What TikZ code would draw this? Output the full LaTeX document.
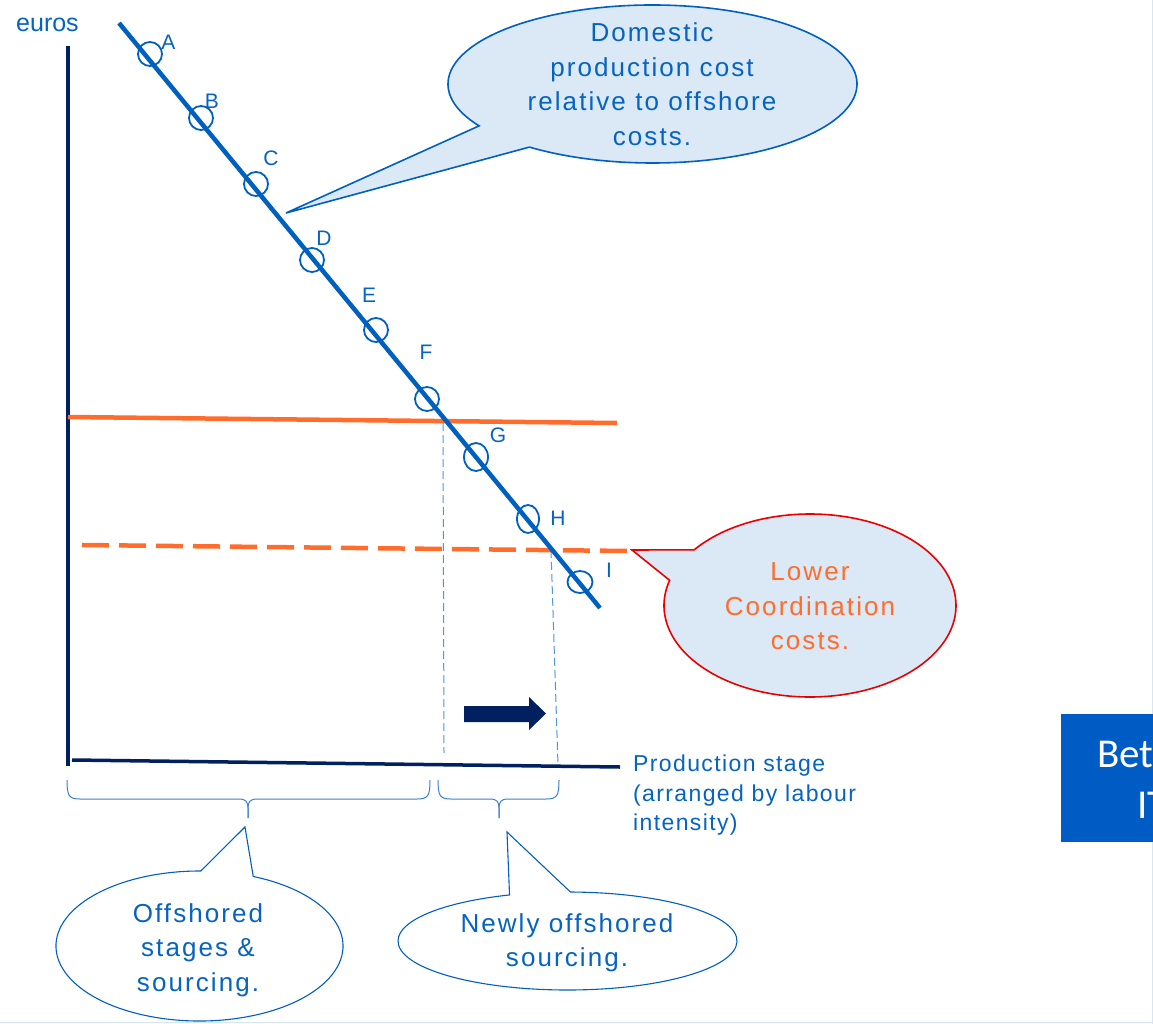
\documentclass[tikz,border=0pt]{standalone}
\usepackage{fontspec}
\setmainfont{Liberation Sans}
\newfontfamily\calfont{Carlito}
\newfontfamily\spacedfont[LetterSpace=8]{Liberation Sans}
\newfontfamily\prodfont[LetterSpace=6]{Liberation Sans}
\usetikzlibrary{calc,shapes.geometric}
\definecolor{txtblue}{RGB}{5,99,193}
\definecolor{lineblue}{RGB}{0,96,192}
\definecolor{navy}{RGB}{0,32,96}
\definecolor{orng}{RGB}{255,108,44}
\definecolor{callfill}{RGB}{218,233,245}
\definecolor{dashblue}{RGB}{80,150,220}
\definecolor{boxblue}{RGB}{0,92,197}
\definecolor{calred}{RGB}{235,0,0}
\definecolor{framegray}{RGB}{214,230,242}
\definecolor{bracecol}{RGB}{60,130,210}
\begin{document}
\begin{tikzpicture}[x=1pt,y=-1pt,
  axisline/.style={navy, line width=3.5pt},
  curveline/.style={lineblue, line width=4.5pt},
  ptcirc/.style={ellipse, draw=lineblue, line width=1.8pt, inner sep=0pt, minimum width=24pt, minimum height=24pt},
  ptlbl/.style={text=txtblue, font=\fontsize{21}{24}\selectfont, inner sep=0pt},
  orngline/.style={orng, line width=4.5pt},
  orngdash/.style={orng, line width=4.5pt, dash pattern=on 27pt off 10pt},
  thindash/.style={dashblue, line width=1pt, dash pattern=on 8pt off 4pt},
  calltext/.style={align=center, inner sep=0pt, font=\spacedfont\fontsize{26}{34.5}\selectfont},
  bracestyle/.style={draw=bracecol, line width=1pt}
]
\useasboundingbox (0,0) rectangle (1153,1024);
\fill[white] (0,0) rectangle (1153,1024);

% frame edges
\draw[framegray, line width=1pt] (0,1022.5) -- (1153,1022.5);
\draw[framegray, line width=1pt] (1152.5,0) -- (1152.5,1024);

% right box (cut off)
\begin{scope}
\clip (0,0) rectangle (1153,1024);
\fill[boxblue] (1061,714) rectangle (1160,842);
\node[anchor=base west, text=white, inner sep=0pt, font=\calfont\fontsize{41}{49}\selectfont] (bet) at (1097,767) {Bet};
\node[anchor=base west, text=white, inner sep=0pt, font=\calfont\fontsize{41}{49}\selectfont] (it) at (1137,818) {IT};
\end{scope}

% axes
\coordinate (ytop) at (68,46);
\coordinate (ybot) at (68,766);
\coordinate (xl) at (72,760);
\coordinate (xr) at (620,767);
\draw[axisline] (ytop) -- (ybot);
\draw[axisline] (xl) -- (xr);
\node[anchor=base west, text=txtblue, inner sep=0pt, font=\fontsize{25}{28}\selectfont] (euros) at (16,32) {euros};
\node[anchor=north west, align=left, text=txtblue, inner sep=0pt, font=\prodfont\fontsize{23}{29.5}\selectfont] (prodlbl) at (633,755) {Production stage\\(arranged by labour\\intensity)};

% cost lines
\coordinate (osl) at (68,417);
\coordinate (osr) at (617,423);
\draw[orngline] (osl) -- (osr);
\coordinate (odl) at (82,545);
\coordinate (odr) at (630,551);
\draw[orngdash] (odl) -- (odr);

% thin dashed verticals
\coordinate (v1t) at (443,423);
\coordinate (v1b) at (444,753);
\coordinate (v2t) at (551,550);
\coordinate (v2b) at (558,765);
\draw[thindash] (v1t) -- (v1b);
\draw[thindash] (v2t) -- (v2b);

% main domestic cost line
\coordinate (ms) at (119,23);
\coordinate (me) at (600,608);
\draw[curveline] (ms) -- (me);

% point markers
\node[ptcirc] (cA) at (150,54) {};
\node[ptcirc] (cB) at (201,118) {};
\node[ptcirc] (cC) at (256,184) {};
\node[ptcirc] (cD) at (312,260) {};
\node[ptcirc] (cE) at (376,330) {};
\node[ptcirc] (cF) at (427,399) {};
\node[ptcirc, minimum height=28pt] (cG) at (476,457) {};
\node[ptcirc, minimum width=22pt, minimum height=28pt] (cH) at (528,519) {};
\node[ptcirc, minimum width=25pt, minimum height=22pt] (cI) at (580,582) {};
\node[ptlbl] (lA) at (168.5,42.5) {A};
\node[ptlbl] (lB) at (212,101) {B};
\node[ptlbl] (lC) at (271,158) {C};
\node[ptlbl] (lD) at (324,238) {D};
\node[ptlbl] (lE) at (369,295) {E};
\node[ptlbl] (lF) at (426,352) {F};
\node[ptlbl] (lG) at (498,435) {G};
\node[ptlbl] (lH) at (558,518) {H};
\node[ptlbl] (lI) at (609,570) {I};

% block arrow
\fill[navy] (464,706) -- (529,706) -- (529,697) -- (546,713.5) -- (529,730) -- (529,722) -- (464,722) -- cycle;

% braces
\coordinate (b1l) at (67,780);
\coordinate (b1tip) at (248,818);
\coordinate (b1r) at (430,780);
\coordinate (b2l) at (438,780);
\coordinate (b2tip) at (499,818);
\coordinate (b2r) at (559,780);
\draw[bracestyle] (b1l) .. controls (67,796) and (69,799) .. (80,799) -- (239,799) .. controls (246,799) and (248,802) .. (248,808) -- (b1tip);
\draw[bracestyle] (b1tip) -- (248,808) .. controls (248,802) and (250,799) .. (257,799) -- (417,799) .. controls (428,799) and (430,796) .. (b1r);
\draw[bracestyle] (b2l) .. controls (438,796) and (440,799) .. (451,799) -- (490,799) .. controls (497,799) and (499,802) .. (499,808) -- (b2tip);
\draw[bracestyle] (b2tip) -- (499,808) .. controls (499,802) and (501,799) .. (508,799) -- (546,799) .. controls (557,799) and (559,796) .. (b2r);

% callout 1: domestic production cost
\coordinate (t1) at (286,213);
\path[draw=lineblue, fill=callfill, line width=1.6pt] (t1) -- ($(652.5,84)+(148:204.5 and 79)$) arc[start angle=148, end angle=487, x radius=204.5, y radius=79] -- cycle;
\node[calltext, text=txtblue] (txt1) at (652,84) {Domestic\\production cost\\relative to offshore\\costs.};

% callout 2: lower coordination costs
\coordinate (t2) at (632,550);
\path[draw=calred, fill=callfill, line width=1.6pt] (t2) -- ($(810,605.5)+(217.5:146 and 91.5)$) arc[start angle=217.5, end angle=556, x radius=146, y radius=91.5] -- cycle;
\node[calltext, text=orng] (txt2) at (810,606.5) {Lower\\Coordination\\costs.};

% callout 3: offshored stages
\coordinate (t3) at (245,827);
\path[draw=lineblue, fill=white, line width=1.1pt] (t3) -- ($(199.5,946)+(292:143.5 and 75)$) arc[start angle=292, end angle=630.5, x radius=143.5, y radius=75] -- cycle;
\node[calltext, text=txtblue] (txt3) at (198,950) {Offshored\\stages \&\\sourcing.};

% callout 4: newly offshored
\coordinate (t4) at (507,832);
\path[draw=lineblue, fill=white, line width=1.1pt] (t4) -- ($(567.5,941)+(271:169.5 and 49)$) arc[start angle=271, end angle=610, x radius=169.5, y radius=49] -- cycle;
\node[calltext, text=txtblue] (txt4) at (567,943) {Newly offshored\\sourcing.};
\end{tikzpicture}
\end{document}
